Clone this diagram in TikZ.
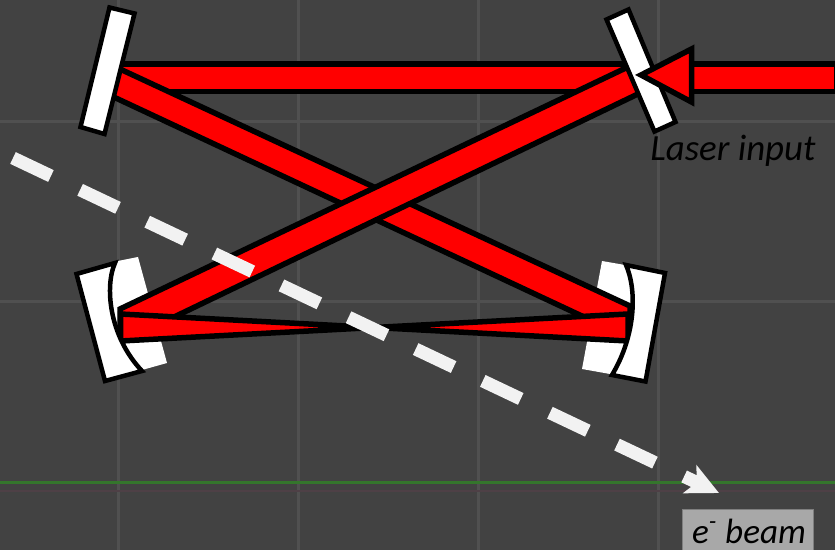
\documentclass[tikz,border=0pt]{standalone}
\usepackage{fontspec}
\setmainfont{Carlito}
\usetikzlibrary{arrows.meta}
\definecolor{bgdark}{RGB}{66,66,66}
\definecolor{gridgrey}{RGB}{80,80,80}
\definecolor{axisgreen}{RGB}{52,118,44}
\definecolor{axisred}{RGB}{78,64,70}
\definecolor{labelgrey}{RGB}{168,168,168}
\definecolor{beamwhite}{RGB}{242,242,242}

\begin{document}
\begin{tikzpicture}[x=0.02cm,y=-0.02cm,font=\itshape\fontsize{21}{21}\selectfont,
    beam/.style={draw=black,fill=red,line width=0.11cm,line join=miter},
    mirror/.style={draw=black,fill=white,line width=0.09cm,line join=miter},
    backing/.style={fill=white},
    gridline/.style={gridgrey,line width=0.06cm}]
    \useasboundingbox (0,0) rectangle (835,550);
    \clip (0,0) rectangle (835,550);
    \fill[bgdark] (0,0) rectangle (835,550);
    % grid
    \foreach \x in {118,298,478,658} \draw[gridline] (\x,0)--(\x,550);
    \foreach \y in {121.5,301.5} \draw[gridline] (0,\y)--(835,\y);
    \draw[axisgreen,line width=0.06cm] (0,482)--(835,482);
    \draw[axisred,line width=0.03cm] (0,491)--(835,491);
    % curved mirrors, white part behind the beams
    \fill[backing] (113,262)--(138,257)--(167,363)--(142,370)--(110,335)--(100,285)--cycle;
    \fill[backing] (625,265)--(602,261)--(582,369)--(610,374)--(650,335)--(650,285)--cycle;
    % beams
    \draw[beam] (110,64)--(640,64)--(640,91.5)--(110,91.5)--cycle;
    \draw[beam] (110,64.4)--(630,306)--(630,338.5)--(110,95.3)--cycle;
    \draw[beam] (120,309)--(630,66)--(640,93)--(120,343)--cycle;
    \draw[beam] (120.5,314)--(628,341)--(628,314)--(120.5,341)--cycle;
    % curved mirrors, front
    \draw[mirror] (76.5,274)--(115,263) .. controls (105,285) and (108,335) .. (142,371)--(105,381)--cycle;
    \draw[mirror] (665,273)--(626,265) .. controls (637,290) and (636,335) .. (612,375)--(645.5,381.5)--cycle;
    % flat mirrors
    \draw[mirror] (109.5,7.5)--(134.5,13.5)--(104.5,134)--(80.5,127)--cycle;
    \draw[mirror] (606.5,19.5)--(628.5,9.5)--(675.5,122)--(654.5,131.5)--cycle;
    % input
    \draw[beam] (691.5,64)--(837,64)--(837,91.5)--(691.5,91.5)--cycle;
    \draw[beam] (641,75)--(691.5,49)--(691.5,102)--cycle;
    \node[inner sep=0pt,anchor=base west,text=black] (laserlabel) at (650,161) {Laser input};
    % electron beam
    \coordinate (ebeamstart) at (13,158);
    \coordinate (ebeamend) at (719,493);
    \draw[beamwhite,line width=0.26cm,dash pattern=on 0.84cm off 0.646cm,-{Stealth[length=0.64cm,width=0.61cm,inset=0.15cm]}] (ebeamstart)--(ebeamend);
    \node[fill=labelgrey,draw=labelgrey!60!bgdark,line width=0.02cm,inner sep=0pt,minimum width=2.62cm,minimum height=1.0cm,anchor=north west,text=black] (ebeamlabel) at (682,509) {};
    \node[inner sep=0pt,anchor=base,text=black,font=\itshape\fontsize{20}{20}\selectfont] (ebeamtext) at (749,543) {e\textsuperscript{-} beam};
\end{tikzpicture}
\end{document}
